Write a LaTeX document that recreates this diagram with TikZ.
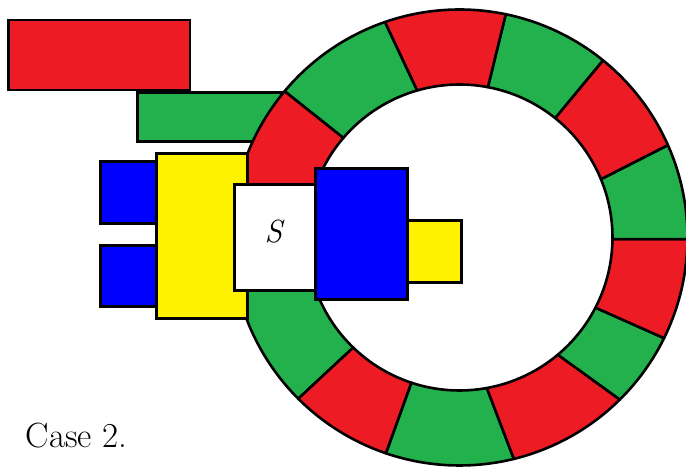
\documentclass[tikz,border=0pt]{standalone}
\definecolor{pred}{HTML}{ED1C24}
\definecolor{pgreen}{HTML}{22B14C}
\definecolor{pblue}{HTML}{0000FF}
\definecolor{pyellow}{HTML}{FFF200}
\tikzset{
  box/.style={draw=black, line width=2.6pt, line join=miter},
  ringseg/.style={draw=black, line width=2.6pt, line join=round}
}
\newcommand\ringpart[5]{%
  \draw[ringseg, fill=#1] (#2:228) arc[start angle=#2, end angle=#3, radius=228]
    -- (#5:153) arc[start angle=#5, end angle=#4, radius=153] -- cycle;}
\begin{document}
\begin{tikzpicture}[x=1pt,y=1pt]
\useasboundingbox (0,0) rectangle (686,470);
% bars behind the ring
\draw[box, fill=pred] (8.3,450) rectangle (190,380);
\draw[box, fill=pgreen] (137.7,377.5) rectangle (320,328.3);
% ring
\begin{scope}[shift={(459.5,232.5)}]
  \ringpart{pgreen}{-180}{-135}{-180}{-134}
  \ringpart{pred}{-135}{-108.8}{-134}{-108.3}
  \ringpart{pgreen}{-108.8}{-76.2}{-108.3}{-79.7}
  \ringpart{pred}{-76.2}{-45.3}{-79.7}{-50}
  \ringpart{pgreen}{-45.3}{-26.2}{-50}{-27.3}
  \ringpart{pred}{-26.2}{-0.4}{-27.3}{-0.6}
  \ringpart{pgreen}{-0.4}{23.9}{-0.6}{22.4}
  \ringpart{pred}{23.9}{51}{22.4}{51.3}
  \ringpart{pgreen}{51}{78.3}{51.3}{79.3}
  \ringpart{pred}{78.3}{109.1}{79.3}{106.1}
  \ringpart{pgreen}{109.1}{140.1}{106.1}{139.4}
  \ringpart{pred}{140.1}{180}{139.4}{180}
\end{scope}
% left blocks
\node[box, fill=pblue, minimum width=57pt, minimum height=62pt, inner sep=0pt, anchor=south west] (b1) at (99,245) {};
\node[box, fill=pblue, minimum width=57pt, minimum height=61pt, inner sep=0pt, anchor=south west] (b2) at (99,162) {};
\node[box, fill=pyellow, minimum width=91pt, minimum height=165pt, inner sep=0pt, anchor=south west] (y1) at (155,150) {};
\node[box, fill=white, minimum width=81pt, minimum height=106pt, inner sep=0pt, anchor=south west] (s) at (233,178) {};
\node[font=\rmfamily\fontsize{32}{36}\selectfont\itshape] (sl) at (273.5,238) {S};
% right blocks
\node[box, fill=pblue, minimum width=92pt, minimum height=131pt, inner sep=0pt, anchor=south west] (b3) at (314,169) {};
\node[box, fill=pyellow, minimum width=54pt, minimum height=62pt, inner sep=0pt, anchor=south west] (y2) at (406,186) {};
% caption
\node[font=\rmfamily\fontsize{35}{40}\selectfont, anchor=base west, inner sep=0pt] (cap) at (25.5,22) {Case 2.};
\end{tikzpicture}
\end{document}
